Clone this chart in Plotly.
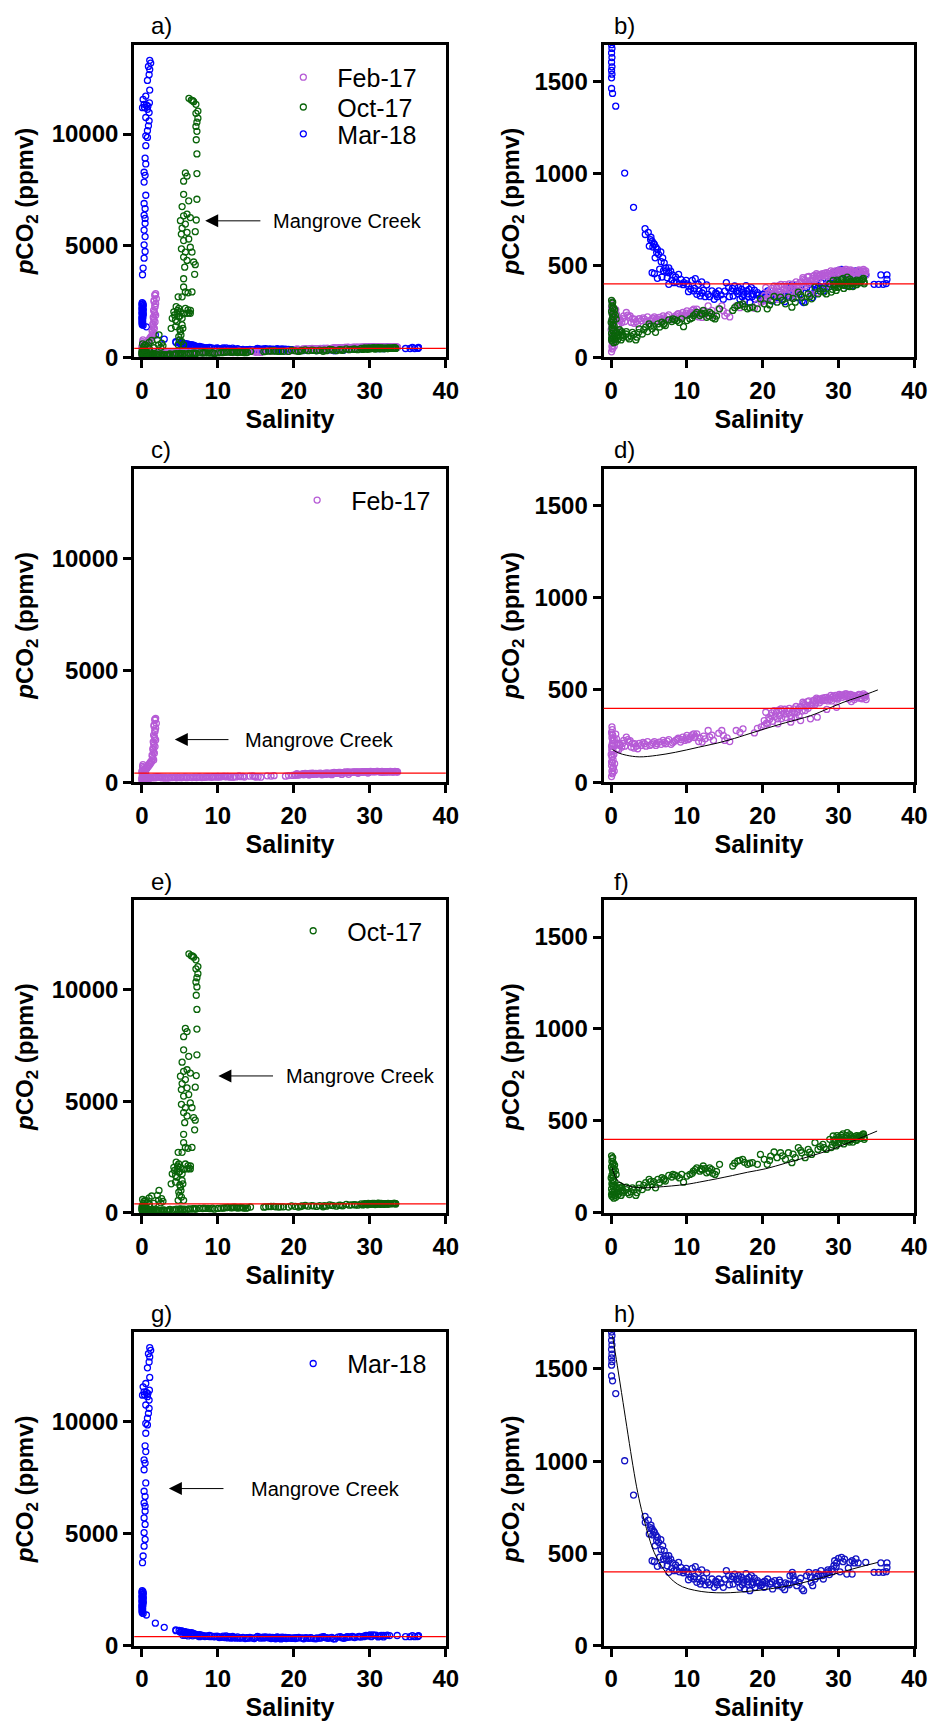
import plotly.graph_objects as go

# ---------------- data (salinity, pCO2 ppmv) ----------------
# Feb-17 : estuary points (shown in a, b, c, d) and mangrove creek points (a, c only)
FEB_ESTUARY = [
    (0.05, 30), (0.15, 45), (0.10, 60), (0.20, 75), (0.05, 90), (0.15, 105), (0.25, 120), (0.10, 135), (0.00, 150), (0.20, 165),
    (0.10, 180), (0.05, 195), (0.15, 210), (0.25, 225), (0.10, 240), (0.20, 255), (0.05, 270), (0.15, 285), (0.10, 300), (0.20, 50),
    (0.30, 80), (0.05, 110), (0.15, 140), (0.10, 170), (0.25, 200), (0.20, 230), (0.10, 260), (0.40, 230), (0.50, 200), (0.70, 235),
    (0.90, 210), (1.13, 199), (1.00, 175), (0.60, 260), (0.35, 150), (0.45, 100), (0.40, 60), (1.20, 205), (1.40, 190), (1.65, 226),
    (2.00, 244), (2.20, 230), (2.35, 217), (2.65, 190), (2.80, 210), (3.10, 208), (3.30, 195), (3.50, 181), (3.95, 199), (4.20, 215),
    (4.40, 208), (4.80, 220), (5.10, 199), (5.30, 205), (5.50, 213), (5.90, 199), (6.00, 210), (6.35, 217), (6.85, 226), (7.00, 215),
    (7.20, 208), (7.60, 231), (8.10, 213), (8.30, 220), (8.50, 226), (8.85, 238), (9.15, 217), (9.45, 244), (9.70, 226), (9.90, 240),
    (10.0, 253), (10.3, 235), (10.5, 245), (10.7, 256), (11.0, 242), (11.1, 250), (11.3, 262), (11.55, 220), (12.0, 217), (12.4, 235),
    (12.8, 280), (13.0, 245), (13.5, 226), (14.2, 265), (14.6, 280), (14.8, 253), (15.0, 226), (15.65, 220), (16.5, 280), (17.4, 289),
    (18.9, 267), (19.3, 292), (19.8, 300), (20.2, 334), (20.2, 307), (20.4, 379), (20.65, 316), (20.8, 350), (21.1, 361), (21.3, 330),
    (21.5, 388), (21.8, 380), (21.95, 343), (22.0, 316), (22.2, 360), (22.4, 397), (22.6, 385), (22.8, 370), (23.0, 350), (23.25, 388),
    (23.7, 361), (23.7, 325), (23.9, 380), (24.1, 397), (24.3, 350), (24.55, 379), (24.7, 395), (24.9, 406), (25.0, 334), (25.1, 410),
    (25.3, 433), (25.6, 388), (25.6, 420), (25.9, 437), (26.0, 400), (26.3, 419), (26.3, 343), (26.6, 430), (26.7, 442), (26.9, 420),
    (27.0, 430), (27.2, 448), (27.2, 352), (27.4, 440), (27.6, 451), (27.9, 455), (28.0, 442), (28.3, 445), (28.45, 460), (28.45, 394),
    (28.7, 455), (28.9, 448), (29.0, 470), (29.1, 440), (29.3, 466), (29.5, 455), (29.75, 455), (29.75, 406), (30.0, 460), (30.2, 469),
    (30.4, 470), (30.6, 473), (30.8, 465), (31.05, 478), (31.2, 470), (31.4, 450), (31.5, 469), (31.7, 437), (31.9, 460), (32.1, 448),
    (32.3, 465), (32.6, 469), (32.8, 455), (33.0, 460), (33.2, 470), (33.4, 469), (33.5, 460), (33.65, 448), (20.5, 320), (20.9, 340),
    (21.2, 375), (21.6, 355), (22.1, 390), (22.5, 345), (22.9, 395), (23.1, 370), (23.5, 400), (23.8, 345), (24.2, 375), (24.4, 410),
    (24.8, 360), (25.2, 385), (25.4, 425), (25.8, 410), (26.1, 440), (26.5, 415), (26.8, 445), (27.1, 455), (27.5, 430), (27.8, 445),
    (28.2, 458), (28.6, 440), (29.2, 460), (29.6, 470), (29.9, 450), (30.1, 475), (30.5, 460), (30.9, 478), (31.3, 462), (31.6, 475),
    (32.0, 470), (32.4, 458), (32.7, 475), (33.1, 452), (33.3, 478), (33.6, 470), (0.80, 180), (1.50, 210), (1.80, 195), (2.50, 225),
    (3.00, 185), (3.70, 210), (4.60, 195), (5.70, 220), (6.60, 205), (7.40, 222), (7.90, 205), (8.70, 232), (9.30, 230), (10.1, 230),
    (10.9, 262), (11.7, 240), (12.2, 250), (13.3, 255), (15.3, 240), (17.0, 270),
]
FEB_CREEK = [
    (1.82, 2850), (1.74, 2775), (1.91, 2627), (1.61, 2553), (1.82, 2404), (1.74, 2256), (1.65, 2033), (1.82, 1885), (1.56, 1737), (1.74, 1588),
    (1.48, 1440), (1.65, 1291), (1.39, 1143), (1.56, 994), (1.30, 920), (1.17, 846), (1.04, 772), (0.87, 697), (0.69, 623), (0.52, 578),
    (0.30, 549), (0.09, 519), (0.00, 475), (1.70, 2800), (1.60, 2500), (1.70, 2300), (1.55, 2100), (1.70, 1950), (1.50, 1800), (1.60, 1650),
    (1.45, 1500), (1.55, 1350), (1.35, 1200), (1.45, 1050), (1.25, 950), (1.10, 880), (0.95, 800), (0.80, 720), (0.60, 650), (0.40, 600),
    (0.20, 650), (0.10, 700), (0.15, 780), (0.05, 400), (0.25, 420), (0.50, 450), (0.30, 350),
]
FEB_FIT = [(0.18, 176), (1.0, 158), (2.0, 146), (3.7, 137), (6.0, 145), (8.5, 162), (11.5, 189), (15.0, 222),
           (20.2, 288), (23.0, 322), (26.3, 360), (28.5, 396), (30.6, 432), (33.0, 466), (35.2, 500)]

# Oct-17
OCT_ESTUARY = [
    (0.05, 310), (0.15, 295), (0.10, 280), (0.20, 265), (0.05, 250), (0.15, 235), (0.25, 220), (0.10, 205), (0.00, 190), (0.20, 175),
    (0.10, 160), (0.30, 145), (0.05, 130), (0.15, 115), (0.25, 100), (0.10, 90), (0.35, 80), (0.20, 300), (0.30, 270), (0.35, 240),
    (0.30, 200), (0.40, 170), (0.45, 120), (0.50, 95), (0.60, 85), (0.70, 110), (0.80, 135), (0.90, 100), (1.00, 125), (1.10, 150),
    (1.20, 115), (1.30, 95), (1.40, 140), (1.60, 120), (0.65, 209), (1.09, 136), (1.52, 109), (1.95, 127), (2.40, 100), (2.80, 136),
    (3.25, 95), (3.70, 155), (4.10, 127), (4.55, 164), (5.00, 182), (5.40, 155), (5.85, 136), (6.15, 182), (6.70, 191), (7.15, 173),
    (7.60, 204), (8.15, 209), (8.70, 200), (9.30, 209), (9.55, 167), (10.4, 209), (10.85, 227), (11.3, 245), (11.7, 227), (12.15, 255),
    (12.6, 218), (13.25, 236), (13.7, 209), (14.3, 264), (16.05, 255), (16.7, 282), (17.35, 291), (18.0, 264), (18.65, 273), (19.3, 264),
    (19.7, 318), (20.2, 291), (20.6, 264), (21.05, 309), (21.5, 331), (21.9, 300), (22.35, 327), (23.0, 291), (23.4, 327), (23.85, 273),
    (24.3, 300), (24.7, 355), (25.15, 327), (25.6, 300), (26.0, 345), (26.45, 318), (26.9, 382), (27.3, 345), (27.95, 373), (28.4, 345),
    (28.85, 400), (29.05, 355), (29.3, 418), (29.5, 382), (29.7, 364), (30.15, 400), (30.35, 422), (30.8, 391), (31.15, 436), (31.45, 385),
    (31.85, 409), (32.3, 396), (32.75, 418), (33.2, 427), (33.4, 409), (2.00, 140), (2.60, 115), (3.00, 125), (3.40, 110), (4.30, 150),
    (4.80, 140), (5.20, 170), (6.40, 165), (7.00, 185), (8.00, 195), (9.00, 190), (12.0, 235), (12.9, 225), (13.4, 215), (11.9, 240),
    (16.3, 270), (17.0, 285), (17.6, 275), (18.3, 270), (20.9, 285), (22.6, 310), (24.0, 320), (25.0, 340), (26.2, 330), (27.6, 360),
    (28.1, 355), (29.9, 380), (30.0, 410), (30.5, 395), (31.0, 420), (31.3, 400), (31.6, 415), (32.0, 400), (32.5, 410), (33.0, 415),
    (29.4, 395), (30.7, 375), (31.9, 385), (32.4, 420), (33.3, 430), (29.2, 370), (29.6, 400), (29.8, 420), (30.1, 385), (30.4, 410),
    (30.6, 430), (30.9, 405), (31.2, 390), (31.5, 425), (31.7, 400), (32.1, 415), (32.4, 395), (32.8, 405), (33.1, 420), (33.4, 400),
    (0.15, 150), (0.25, 180), (0.35, 110), (0.05, 100), (0.45, 260), (0.50, 150), (0.55, 230), (2.20, 110), (3.60, 135), (5.60, 170),
    (6.90, 178), (8.40, 205), (10.0, 200), (10.7, 215), (11.1, 235), (12.4, 240), (13.0, 245), (13.9, 225),
]
OCT_CREEK = [
    (6.51, 11520), (6.82, 11450), (7.12, 11330), (7.38, 11030), (7.12, 10930), (7.38, 10710), (7.25, 10530), (7.12, 10340), (7.25, 10120), (7.16, 9745),
    (7.25, 9110), (7.25, 8230), (5.73, 8260), (5.95, 8120), (5.50, 7890), (5.50, 7300), (6.17, 7010), (7.25, 7080), (5.30, 6750), (5.95, 6410),
    (5.50, 6340), (5.08, 6120), (6.38, 6260), (7.16, 6150), (5.73, 5970), (5.30, 5790), (5.20, 5520), (5.95, 5600), (7.03, 5630), (5.50, 5230),
    (6.17, 5300), (5.21, 4860), (5.73, 4710), (6.38, 4930), (5.50, 4490), (6.60, 4710), (5.95, 4340), (6.82, 4270), (5.64, 4040), (7.03, 4150),
    (5.50, 3520), (6.95, 3720), (5.50, 3150), (5.73, 2930), (6.60, 2930), (5.30, 2710), (4.78, 2710), (6.08, 2890), (4.52, 2270), (4.86, 2190),
    (4.21, 2040), (4.65, 1970), (5.08, 2040), (4.00, 1750), (4.43, 1670), (4.86, 1820), (5.30, 1750), (5.73, 2190), (5.95, 1970), (6.38, 1970),
    (6.08, 2120), (3.86, 1300), (4.43, 1380), (5.30, 1450), (5.08, 1155), (4.86, 930), (4.95, 785), (4.78, 563), (5.50, 563), (5.21, 710),
    (4.30, 1900), (4.70, 2100), (5.00, 1850), (5.50, 1950), (6.20, 2000), (4.60, 1600), (5.40, 1300), (5.15, 1000), (5.00, 1250), (6.40, 2100),
    (6.20, 11600), (6.70, 11500), (2.26, 1007), (2.04, 785), (2.60, 637), (2.78, 518), (0.96, 666), (1.30, 755), (0.10, 600), (0.30, 520),
    (0.50, 560), (0.70, 480), (1.60, 430), (2.20, 560), (2.50, 450), (0.20, 430), (1.00, 380), (0.40, 350),
]
OCT_FIT = [(0.13, 245), (0.5, 200), (1.0, 170), (1.74, 154), (2.8, 142), (3.9, 136), (6.0, 140), (9.9, 155), (11.7, 168),
           (14.0, 186), (16.0, 203), (18.0, 221), (20.4, 240), (23.0, 270), (26.0, 305), (29.1, 345), (32.0, 392), (35.1, 445)]

# Mar-18
MAR_ESTUARY = [
    (0.05, 2450), (0.15, 2410), (0.00, 2370), (0.20, 2330), (0.10, 2290), (0.05, 2250), (0.15, 2210), (0.00, 2170), (0.20, 2130), (0.10, 2090),
    (0.05, 2050), (0.15, 2010), (0.00, 1970), (0.20, 1930), (0.10, 1890), (0.05, 1850), (0.15, 1810), (0.00, 1770), (0.10, 1730), (0.05, 1700),
    (0.10, 1680), (0.05, 1655), (0.10, 1630), (0.05, 1605), (0.10, 1580), (0.05, 1560), (0.10, 1540), (0.05, 1520), (0.05, 1462), (0.18, 1435),
    (0.60, 1366), (1.78, 1002), (2.95, 816), (4.47, 700), (4.50, 668), (5.25, 653), (5.40, 632), (5.03, 605), (5.70, 614), (5.90, 599),
    (6.10, 587), (6.25, 560), (5.80, 541), (6.55, 574), (6.80, 541), (7.00, 514), (7.20, 487), (7.60, 487), (7.85, 469), (5.40, 460),
    (5.70, 455), (6.10, 430), (6.70, 437), (7.40, 433), (8.10, 448), (8.50, 437), (8.90, 451), (9.20, 424), (7.60, 397), (8.30, 406),
    (9.60, 406), (9.90, 419), (10.2, 388), (10.7, 419), (11.1, 428), (11.5, 397), (11.95, 410), (10.2, 357), (10.9, 361), (11.3, 343),
    (11.75, 334), (12.2, 365), (12.6, 394), (12.8, 343), (13.3, 361), (13.6, 316), (13.9, 343), (14.2, 361), (14.8, 316), (15.2, 406),
    (15.5, 379), (15.9, 361), (16.1, 334), (16.3, 388), (16.7, 347), (17.0, 316), (17.2, 370), (17.5, 343), (17.6, 307), (17.9, 361),
    (18.1, 329), (18.3, 298), (18.5, 379), (18.7, 343), (19.0, 316), (19.3, 352), (19.7, 325), (20.0, 343), (20.2, 316), (20.65, 361),
    (21.0, 334), (21.3, 307), (21.6, 352), (22.0, 325), (22.3, 343), (22.6, 316), (22.9, 303), (23.3, 334), (23.6, 379), (23.9, 397),
    (24.1, 361), (24.5, 325), (24.8, 343), (25.2, 307), (25.4, 298), (25.8, 379), (26.1, 397), (26.4, 343), (26.6, 325), (26.9, 361),
    (27.4, 388), (27.7, 406), (28.0, 361), (28.4, 394), (28.7, 401), (29.1, 415), (29.4, 433), (29.5, 460), (29.75, 448), (30.0, 473),
    (30.4, 478), (30.8, 469), (31.1, 388), (31.5, 451), (31.8, 388), (32.1, 448), (32.6, 448), (33.6, 451), (34.7, 397), (35.3, 397),
    (35.6, 448), (35.9, 397), (36.3, 401), (36.4, 448), (36.4, 424), (16.5, 360), (17.3, 330), (18.0, 345), (18.9, 365), (19.5, 340),
    (16.8, 380), (17.8, 390), (14.0, 330), (12.4, 330), (11.0, 375), (9.00, 400), (8.00, 420), (6.40, 480), (6.90, 470), (5.60, 620),
    (6.00, 570), (7.60, 460), (24.0, 380), (27.2, 375), (28.8, 385), (30.2, 400), (31.3, 420), (20.5, 340), (21.8, 335), (23.0, 340),
    (10.5, 370), (11.6, 360), (12.0, 350), (13.0, 330), (13.8, 350), (14.5, 340), (15.0, 360), (15.6, 330), (16.0, 375), (16.9, 360),
    (17.4, 355), (18.2, 370), (18.6, 330), (19.2, 340), (19.9, 330), (20.3, 350), (21.2, 345), (22.2, 355), (23.5, 330), (24.3, 350),
    (25.0, 365), (26.3, 370), (27.0, 395), (27.9, 380), (28.6, 410), (29.2, 400), (29.7, 430), (30.6, 455), (32.3, 470), (31.8, 460),
    (8.60, 410), (9.50, 395), (10.0, 400), (6.60, 520), (7.30, 470), (5.20, 640), (5.50, 600), (4.90, 680),
]
MAR_CREEK = [
    (1.04, 13300), (1.17, 13180), (0.87, 13030), (1.04, 12885), (0.96, 12660), (0.74, 12400), (1.04, 11970), (0.52, 11700), (0.17, 11550), (0.30, 11330),
    (0.09, 11180), (0.74, 11110), (0.96, 10960), (0.52, 10740), (0.96, 10590), (0.87, 10370), (0.74, 10150), (0.52, 9920), (0.74, 9850), (0.52, 9480),
    (0.43, 8920), (0.52, 8660), (0.30, 8290), (0.43, 8150), (0.30, 7850), (0.52, 7260), (0.30, 6890), (0.43, 6660), (0.30, 6370), (0.43, 6220),
    (0.43, 6000), (0.30, 5700), (0.43, 5410), (0.30, 5040), (0.43, 4740), (0.30, 4440), (0.17, 4000), (0.09, 3700), (0.60, 11300), (0.80, 11250),
    (1.00, 11400), (0.35, 11200),
]
MAR_FIT = [(0.18, 1678), (0.8, 1520), (1.57, 1317), (2.87, 975), (3.5, 830), (4.2, 704), (5.5, 523), (6.3, 455), (7.2, 397),
           (8.2, 350), (9.4, 319), (11.0, 300), (12.8, 289), (15.0, 286), (18.05, 294), (21.0, 308), (24.6, 334), (27.5, 365),
           (30.6, 401), (33.0, 428), (35.2, 451)]

SEASONS = ["Feb-17", "Oct-17", "Mar-18"]
ATM_CO2 = 400
SAL_TICKS = [0, 10, 20, 30, 40]
FULL_TICKS = [0, 5000, 10000]
ZOOM_TICKS = [0, 500, 1000, 1500]

# ---------------- styling / layout ----------------
W, H = 936, 1731
FONT = "Liberation Sans, Arial, sans-serif"
PURPLE = "#B65BD6"
GREEN = "#0A640A"
BLUE = "#0000FF"
BLUE_DARK = "#1414C4"

col_px = [(128, 444), (604, 919)]
row_px = [(37, 352), (464, 780), (899, 1214), (1334, 1650)]


def xy(points):
    return [p[0] for p in points], [p[1] for p in points]


fig = go.Figure()


def add_points(n, pts, color, name, legend=None):
    x, y = xy(pts)
    fig.add_trace(go.Scatter(
        x=x, y=y, mode="markers", name=name,
        marker=dict(symbol="circle-open", size=6, color=color, line=dict(width=1.3, color=color)),
        xaxis="x%d" % n, yaxis="y%d" % n,
        showlegend=legend is not None, legend=legend or "legend",
    ))


def add_fit(n, pts):
    x, y = xy(pts)
    fig.add_trace(go.Scatter(x=x, y=y, mode="lines", line=dict(color="black", width=1, shape="spline"),
                             xaxis="x%d" % n, yaxis="y%d" % n, showlegend=False, hoverinfo="skip"))


# a) all seasons, full range
add_points(1, MAR_ESTUARY + MAR_CREEK, BLUE, SEASONS[2], "legend6")
add_points(1, FEB_ESTUARY + FEB_CREEK, PURPLE, SEASONS[0], "legend")
add_points(1, OCT_ESTUARY + OCT_CREEK, GREEN, SEASONS[1], "legend5")
# b) all seasons without the creek, zoomed
add_points(2, MAR_ESTUARY, BLUE, SEASONS[2])
add_points(2, FEB_ESTUARY, PURPLE, SEASONS[0])
add_points(2, OCT_ESTUARY, GREEN, SEASONS[1])
# c) / d) Feb-17
add_points(3, FEB_ESTUARY + FEB_CREEK, PURPLE, SEASONS[0], "legend2")
add_points(4, FEB_ESTUARY, PURPLE, SEASONS[0])
add_fit(4, FEB_FIT)
# e) / f) Oct-17
add_points(5, OCT_ESTUARY + OCT_CREEK, GREEN, SEASONS[1], "legend3")
add_points(6, OCT_ESTUARY, GREEN, SEASONS[1])
add_fit(6, OCT_FIT)
# g) / h) Mar-18
add_points(7, MAR_ESTUARY + MAR_CREEK, BLUE, SEASONS[2], "legend4")
add_points(8, MAR_ESTUARY, BLUE_DARK, SEASONS[2])
add_fit(8, MAR_FIT)

layout = dict(width=W, height=H, margin=dict(l=0, r=0, t=0, b=0),
              paper_bgcolor="white", plot_bgcolor="white",
              font=dict(family=FONT, color="black"))
axis_common = dict(showline=True, linewidth=3, linecolor="black", mirror=True, showgrid=False, zeroline=False,
                   ticks="outside", ticklen=8, tickwidth=3, tickcolor="black", tickformat="d",
                   tickfont=dict(family=FONT, size=24, color="black", weight="bold"))
shapes, annotations = [], []
for i, lab in enumerate("abcdefgh"):
    n = i + 1
    r, c = divmod(i, 2)
    (l, rt), (t, b) = col_px[c], row_px[r]
    sfx = "" if n == 1 else str(n)
    layout["xaxis" + sfx] = dict(axis_common, domain=[l / W, rt / W], range=[-1, 40], tickvals=SAL_TICKS,
                                 anchor="y" + sfx, ticklabelstandoff=2,
                                 title=dict(text="Salinity", standoff=8,
                                            font=dict(family=FONT, size=25, weight="bold")))
    layout["yaxis" + sfx] = dict(axis_common, domain=[1 - b / H, 1 - t / H],
                                 range=[0, 14000] if c == 0 else [0, 1700],
                                 tickvals=FULL_TICKS if c == 0 else ZOOM_TICKS,
                                 anchor="x" + sfx,
                                 title=dict(text="<i>p</i>CO<sub>2</sub> (ppmv)", standoff=12 if c == 0 else 9,
                                            font=dict(family=FONT, size=24, weight="bold")))
    shapes.append(dict(type="line", xref="x%s domain" % sfx, x0=0, x1=1, yref="y" + sfx, y0=ATM_CO2, y1=ATM_CO2,
                       line=dict(color="red", width=1.3)))
    annotations.append(dict(text=lab + ")", xref="paper", yref="paper", x=(l + 15 if c == 0 else l + 8) / W,
                            y=1 - (t - 19) / H, xanchor="left", yanchor="middle", showarrow=False,
                            font=dict(family=FONT, size=24, color="black")))

# "Mangrove Creek" arrows: (panel, tip x, tip y, tail x, text x)
for n, tx, ty, ax_, lx in [(1, 8.34, 6113, 15.8, 17.0), (3, 4.34, 1899, 11.6, 13.3),
                           (5, 10.07, 6132, 17.46, 18.7), (7, 3.56, 7010, 10.94, 14.1)]:
    annotations.append(dict(x=tx, y=ty, ax=ax_, ay=ty, xref="x%d" % n, yref="y%d" % n,
                            axref="x%d" % n, ayref="y%d" % n, text="", showarrow=True,
                            arrowhead=2, arrowsize=2.6, arrowwidth=1, arrowcolor="black"))
    annotations.append(dict(x=lx, y=ty, xref="x%d" % n, yref="y%d" % n, text="Mangrove Creek",
                            showarrow=False, xanchor="left", yanchor="middle",
                            font=dict(family=FONT, size=20, color="black")))

legend_common = dict(xanchor="left", yanchor="middle", bgcolor="rgba(0,0,0,0)", borderwidth=0,
                     itemwidth=58, font=dict(family=FONT, size=25, color="black"))
for key, (px, py) in {"legend": (299, 70), "legend5": (299, 100), "legend6": (299, 127),
                      "legend2": (313, 496), "legend3": (309, 930), "legend4": (309, 1366)}.items():
    layout[key] = dict(legend_common, x=(px - 34) / W, y=1 - py / H)

layout["shapes"] = shapes
layout["annotations"] = annotations
fig.update_layout(**layout)
fig.write_html("out.html")
